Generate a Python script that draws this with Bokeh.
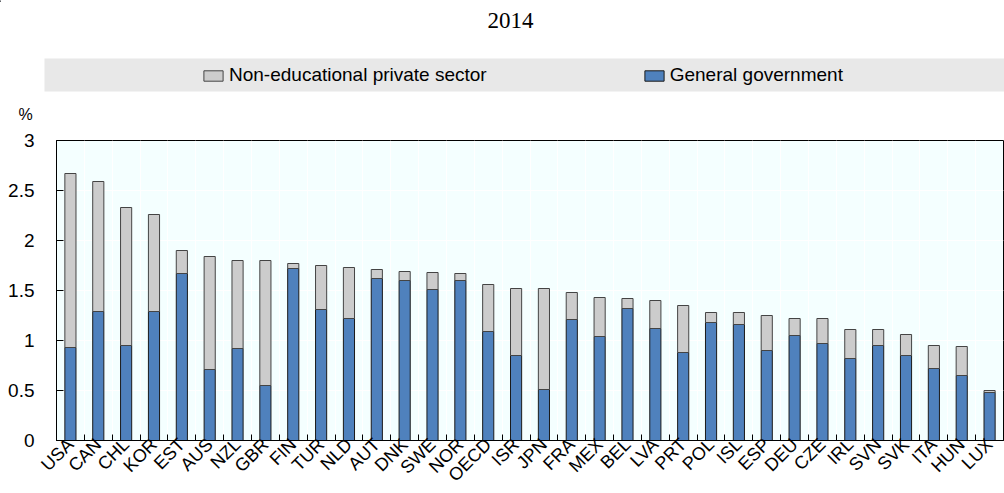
from bokeh.plotting import figure
from bokeh.layouts import column
from bokeh.models import (ColumnDataSource, Range1d, FixedTicker, Legend, LegendItem)
from bokeh.core.properties import value
from bokeh.embed import file_html
from bokeh.resources import INLINE
import math

countries = ["USA", "CAN", "CHL", "KOR", "EST", "AUS", "NZL", "GBR", "FIN", "TUR",
             "NLD", "AUT", "DNK", "SWE", "NOR", "OECD", "ISR", "JPN", "FRA", "MEX",
             "BEL", "LVA", "PRT", "POL", "ISL", "ESP", "DEU", "CZE", "IRL", "SVN",
             "SVK", "ITA", "HUN", "LUX"]
general_government = [0.93, 1.29, 0.95, 1.29, 1.67, 0.71, 0.92, 0.55, 1.72, 1.31,
                      1.22, 1.62, 1.60, 1.51, 1.60, 1.09, 0.85, 0.51, 1.21, 1.04,
                      1.32, 1.12, 0.88, 1.18, 1.16, 0.90, 1.05, 0.97, 0.82, 0.95,
                      0.85, 0.72, 0.65, 0.48]
non_educational_private = [1.74, 1.30, 1.38, 0.97, 0.23, 1.13, 0.88, 1.25, 0.05, 0.44,
                           0.51, 0.09, 0.09, 0.17, 0.07, 0.47, 0.67, 1.01, 0.27, 0.39,
                           0.10, 0.28, 0.47, 0.10, 0.12, 0.35, 0.17, 0.25, 0.29, 0.16,
                           0.21, 0.23, 0.29, 0.02]
y_ticks = [0, 0.5, 1, 1.5, 2, 2.5, 3]
y_tick_labels = ["0", "0.5", "1", "1.5", "2", "2.5", "3"]
title_text = "2014"
unit_text = "%"
series_names = ["General government", "Non-educational private sector"]
series_colors = ["#4F81BD", "#CCCCCC"]
series_lines = ["#1a1a1a", "#444444"]

FONT = "Liberation Sans"

# ---------------- header: title, unit, legend band ----------------
HDR_H = 128
hdr = figure(width=1004, height=HDR_H, output_backend="svg", toolbar_location=None,
             x_range=Range1d(0, 1004), y_range=Range1d(HDR_H, 0),
             x_axis_location=None, y_axis_location=None,
             min_border_left=0, min_border_right=0, min_border_top=0, min_border_bottom=0)
hdr.frame_align = False
hdr.grid.visible = False
hdr.outline_line_color = None
hdr.background_fill_color = "white"
hdr.border_fill_color = "white"

hdr.quad(left=[44], right=[1004], top=[58], bottom=[91],
         fill_color="#E8E8E8", line_color=None)
hdr.text(x=[510], y=[20], text=[title_text], text_font=value("Liberation Serif"),
         text_font_size="23px", text_align="center", text_baseline="middle",
         text_color="black")
hdr.text(x=[25], y=[114], text=[unit_text], text_font=value(FONT),
         text_font_size="16px", text_align="center", text_baseline="middle",
         text_color="black")

# legend swatches (off-screen single marks carrying the series styles)
sw_priv = hdr.vbar(x=[-100], bottom=[0], top=[1], width=1, fill_color=series_colors[1],
                   line_color=series_lines[1])
sw_gov = hdr.vbar(x=[-100], bottom=[0], top=[1], width=1, fill_color=series_colors[0],
                  line_color=series_lines[0])
legend = Legend(items=[LegendItem(label=series_names[1], renderers=[sw_priv]),
                       LegendItem(label=series_names[0], renderers=[sw_gov])],
                orientation="horizontal", location=(201, 42),
                background_fill_alpha=0, border_line_alpha=0,
                glyph_width=24, glyph_height=13, label_standoff=4, spacing=155,
                padding=0, margin=0,
                label_text_font=FONT, label_text_font_size="19px",
                label_text_color="black")
hdr.add_layout(legend)

# ---------------- main chart ----------------
n = len(countries)
centers = [i + 0.5 for i in range(n)]
bounds = [float(i) for i in range(n + 1)]

src = ColumnDataSource(dict(x=centers, country=countries,
                            gov=general_government, priv=non_educational_private))

p = figure(width=1004, height=493 - HDR_H, frame_width=947, frame_height=300,
           output_backend="svg", toolbar_location=None,
           x_range=Range1d(0, n), y_range=Range1d(0, 3),
           min_border_left=56, min_border_right=1, min_border_top=12,
           min_border_bottom=48)
p.frame_align = False
p.background_fill_color = "#F4FFFF"
p.border_fill_color = "white"
p.outline_line_color = "black"
p.outline_line_width = 1

p.vbar_stack(["gov", "priv"], x="x", width=0.4, source=src,
             fill_color=series_colors, line_color=series_lines, line_width=1)

xa = p.xaxis[0]
xa.ticker = FixedTicker(ticks=centers, minor_ticks=bounds)
xa.major_label_overrides = {c: name for c, name in zip(centers, countries)}
xa.major_label_orientation = math.pi / 4
xa.major_tick_in = 0
xa.major_tick_out = 0
xa.minor_tick_in = 6
xa.minor_tick_out = 0
xa.minor_tick_line_color = "black"
xa.axis_line_color = "black"
xa.major_label_text_font = FONT
xa.major_label_text_font_size = "18px"
xa.major_label_text_color = "black"
xa.major_label_standoff = 1

ya = p.yaxis[0]
ya.ticker = FixedTicker(ticks=y_ticks)
ya.major_label_overrides = {t: l for t, l in zip(y_ticks, y_tick_labels)}
ya.major_tick_in = 7
ya.major_tick_out = 0
ya.minor_tick_in = 0
ya.minor_tick_out = 0
ya.axis_line_color = "black"
ya.major_tick_line_color = "black"
ya.major_label_text_font = FONT
ya.major_label_text_font_size = "19px"
ya.major_label_text_color = "black"
ya.major_label_standoff = 22

p.xgrid.ticker = FixedTicker(ticks=bounds)
p.xgrid.grid_line_color = "white"
p.ygrid.ticker = FixedTicker(ticks=y_ticks)
p.ygrid.grid_line_color = "white"

layout = column(hdr, p, spacing=0)
open("out.html", "w").write(file_html(layout, INLINE))
